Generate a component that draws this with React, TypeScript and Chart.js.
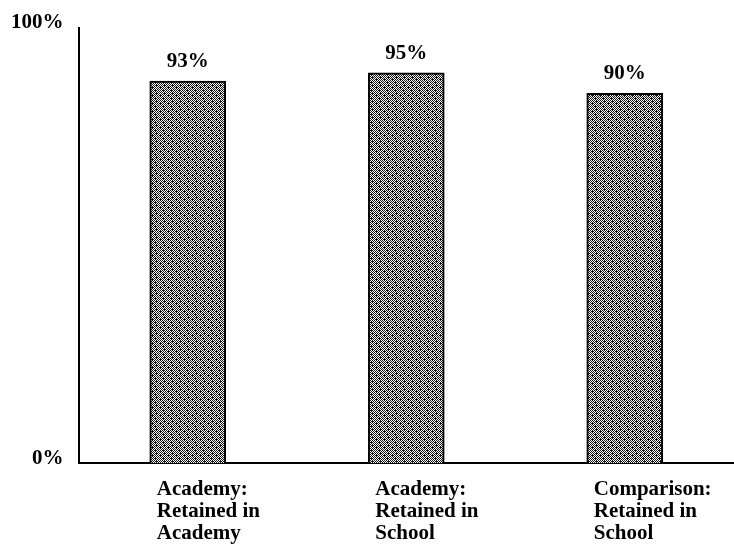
import React, { useEffect, useRef } from "react";
import { Chart, registerables } from "chart.js";

Chart.register(...registerables);

const categories: string[][] = [
  ["Academy:", "Retained in", "Academy"],
  ["Academy:", "Retained in", "School"],
  ["Comparison:", "Retained in", "School"],
];
const values: number[] = [93, 95, 90];
const yTickLabels: string[] = ["0%", "100%"];
const yMax = 106;

const FONT = "'Liberation Serif', 'Times New Roman', serif";

function makePattern(): CanvasPattern | string {
  const c = document.createElement("canvas");
  c.width = 8;
  c.height = 8;
  const g = c.getContext("2d");
  if (!g) return "#777";
  g.fillStyle = "#ffffff";
  g.fillRect(0, 0, 8, 8);
  g.fillStyle = "#111111";
  const rows = [
    "10101010",
    "01010101",
    "10111010",
    "01010101",
    "10101010",
    "01011101",
    "10101010",
    "11010101",
  ];
  rows.forEach((r, y) => {
    for (let x = 0; x < r.length; x++) if (r[x] === "1") g.fillRect(x, y, 1, 1);
  });
  const p = g.createPattern(c, "repeat");
  return p || "#777";
}

const valueLabels = {
  id: "valueLabels",
  afterDatasetsDraw(chart: any) {
    const ctx = chart.ctx;
    const meta = chart.getDatasetMeta(0);
    ctx.save();
    ctx.font = `bold 21px ${FONT}`;
    ctx.fillStyle = "#000";
    ctx.textAlign = "center";
    ctx.textBaseline = "bottom";
    meta.data.forEach((el: any, i: number) => {
      ctx.fillText(`${values[i]}%`, el.x, el.y - 9);
    });
    ctx.restore();
  },
};

export default function App() {
  const ref = useRef<HTMLCanvasElement>(null);
  useEffect(() => {
    if (!ref.current) return;
    const pattern = makePattern();
    const chart = new Chart(ref.current, {
      type: "bar",
      data: {
        labels: categories,
        datasets: [
          {
            data: values,
            backgroundColor: pattern as any,
            borderColor: "#000",
            borderWidth: 2,
            barThickness: 76,
          },
        ],
      },
      options: {
        responsive: false,
        animation: false,
        layout: { padding: { left: -4, right: 0, top: 20, bottom: -12 } },
        plugins: { legend: { display: false }, tooltip: { enabled: false } },
        scales: {
          x: {
            grid: { display: false, drawTicks: false },
            border: { display: true, color: "#000", width: 2 },
            afterFit: (scale: any) => {
              scale.paddingRight = 0;
              scale.paddingLeft = 0;
            },
            ticks: {
              color: "#000",
              font: { family: FONT, size: 21, weight: "bold", lineHeight: 1.03 },
              align: "start",
              labelOffset: -31,
              padding: 16,
              maxRotation: 0,
              autoSkip: false,
            },
          },
          y: {
            min: 0,
            max: yMax,
            grid: { display: false, drawTicks: false },
            border: { display: true, color: "#000", width: 2 },
            afterBuildTicks: (axis: any) => {
              axis.ticks = [{ value: 0 }, { value: yMax }];
            },
            ticks: {
              color: "#000",
              font: { family: FONT, size: 21, weight: "bold" },
              padding: 15,
              labelOffset: -5,
              callback: (v: any) => (v === 0 ? yTickLabels[0] : yTickLabels[1]),
            },
          },
        },
      },
      plugins: [valueLabels],
    });
    return () => chart.destroy();
  }, []);
  return (
    <div style={{ position: "absolute", left: 0, top: 0, width: 734, height: 548, background: "#fff" }}>
      <canvas ref={ref} width={734} height={548} />
    </div>
  );
}
